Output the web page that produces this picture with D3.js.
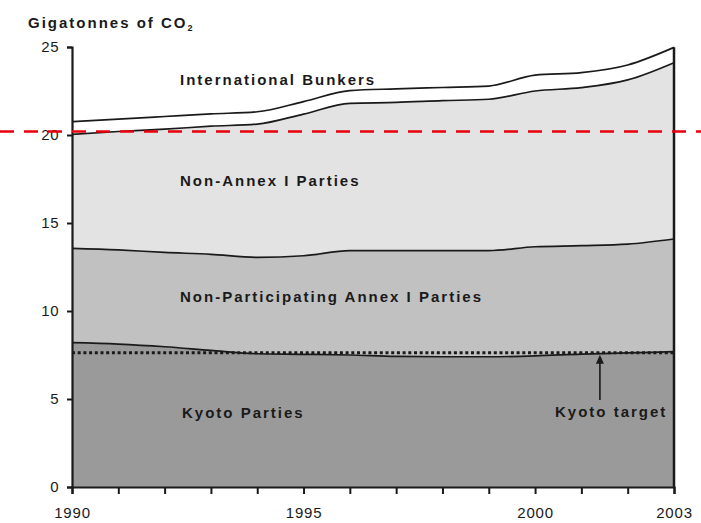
<!DOCTYPE html>
<html>
<head>
<meta charset="utf-8">
<script src="https://cdn.jsdelivr.net/npm/d3@7"></script>
<style>
  html, body { margin: 0; padding: 0; background: #fff; }
  svg { display: block; }
  text { font-family: "Liberation Sans", Arial, sans-serif; fill: #1a1a1a; }
</style>
</head>
<body>
<svg id="chart" width="701" height="523"></svg>
<script>
// ---- Data (Gigatonnes of CO2) ----
const years = [1990,1991,1992,1993,1994,1995,1996,1997,1998,1999,2000,2001,2002,2003];
const kyotoParties      = [8.20,8.12,7.97,7.76,7.57,7.54,7.50,7.42,7.40,7.40,7.45,7.55,7.62,7.69];
const nonParticipating  = [5.36,5.35,5.36,5.46,5.48,5.60,5.93,6.01,6.03,6.03,6.20,6.16,6.18,6.40];
const nonAnnexI         = [6.48,6.73,7.00,7.28,7.57,8.05,8.37,8.42,8.52,8.60,8.85,8.98,9.33,10.02];
const intlBunkers       = [0.72,0.70,0.72,0.70,0.70,0.71,0.72,0.77,0.75,0.75,0.90,0.85,0.85,0.87];
const kyotoTarget = 7.63;
const redLineValue = 20.2;
const yTicks = [0,5,10,15,20,25];
const xLabelYears = [1990,1995,2000,2003];
const seriesNames = ["kyoto","nonPart","nonAnnex","bunkers"];
const seriesLabels = ["Kyoto Parties","Non-Participating Annex I Parties","Non-Annex I Parties","International Bunkers"];
const seriesFills = ["#9a9a9a","#c1c1c1","#e3e3e3","#ffffff"];

const table = years.map((y,i)=>({year:y, kyoto:kyotoParties[i], nonPart:nonParticipating[i], nonAnnex:nonAnnexI[i], bunkers:intlBunkers[i]}));

const svg = d3.select("#chart");
const margin = {left:72, right:27, top:47, bottom:36};
const W = 701, H = 523;
const x = d3.scaleLinear().domain([1990,2003]).range([margin.left, W - margin.right]);
const y = d3.scaleLinear().domain([0,25]).range([H - margin.bottom, margin.top]);

const stack = d3.stack().keys(seriesNames);
const layers = stack(table);

const curve = d3.curveMonotoneX;
const area = d3.area().x(d=>x(d.data.year)).y0(d=>y(d[0])).y1(d=>y(d[1])).curve(curve);
const topLine = d3.line().x(d=>x(d.data.year)).y(d=>y(d[1])).curve(curve);

svg.append("g").selectAll("path").data(layers).join("path")
  .attr("d", area).attr("fill",(d,i)=>seriesFills[i]).attr("stroke","none");

svg.append("g").selectAll("path").data(layers).join("path")
  .attr("d", topLine).attr("fill","none").attr("stroke","#1a1a1a").attr("stroke-width",1.7);

// Kyoto target dotted line
svg.append("line")
  .attr("x1", x(1990)).attr("x2", x(2003))
  .attr("y1", y(kyotoTarget)).attr("y2", y(kyotoTarget))
  .attr("stroke","#1a1a1a").attr("stroke-width",3).attr("stroke-dasharray","3,2.7");

// right edge
const lastTop = layers[layers.length-1][years.length-1][1];
svg.append("line")
  .attr("x1", x(2003)).attr("x2", x(2003))
  .attr("y1", y(0)).attr("y2", y(lastTop))
  .attr("stroke","#1a1a1a").attr("stroke-width",2.5);

// Axes
const yAxis = d3.axisLeft(y).tickValues(yTicks).tickSize(5).tickPadding(8);
const gy = svg.append("g").attr("transform",`translate(${x(1990)},0)`).call(yAxis);
gy.select(".domain").attr("stroke","#1a1a1a").attr("stroke-width",2.2);
gy.selectAll(".tick line").attr("stroke","#1a1a1a").attr("stroke-width",2);
gy.selectAll(".tick text").attr("font-size",15).attr("fill","#1a1a1a")
  .attr("font-family","Liberation Sans, Arial, sans-serif").attr("letter-spacing","0.5px");

const xAxis = d3.axisBottom(x).tickValues(years).tickSize(7).tickPadding(13)
  .tickFormat(d => xLabelYears.includes(d) ? String(d) : "");
const gx = svg.append("g").attr("transform",`translate(0,${y(0)})`).call(xAxis);
gx.select(".domain").attr("stroke","#1a1a1a").attr("stroke-width",2.2);
gx.selectAll(".tick line").attr("stroke","#1a1a1a").attr("stroke-width",2);
gx.selectAll(".tick text").attr("font-size",15).attr("fill","#1a1a1a")
  .attr("font-family","Liberation Sans, Arial, sans-serif").attr("letter-spacing","0.8px");

// Red dashed line
svg.append("line")
  .attr("x1", 0).attr("x2", W)
  .attr("y1", y(redLineValue)).attr("y2", y(redLineValue))
  .attr("stroke","#e8000b").attr("stroke-width",2.4).attr("stroke-dasharray","14,10");

// Axis title
const title = svg.append("text").attr("x",28).attr("y",28)
  .attr("font-size",15).attr("font-weight","bold").attr("letter-spacing","2px");
title.append("tspan").text("Gigatonnes of CO");
title.append("tspan").attr("font-size",9).attr("dy",3).attr("letter-spacing","0px").text("2");

// Series labels
const labelPos = [
  {t:seriesLabels[0], x:182, y:418},
  {t:seriesLabels[1], x:180, y:302},
  {t:seriesLabels[2], x:180, y:186},
  {t:seriesLabels[3], x:180, y:85}
];
svg.append("g").selectAll("text").data(labelPos).join("text")
  .attr("x",d=>d.x).attr("y",d=>d.y).text(d=>d.t)
  .attr("font-size",15).attr("font-weight","bold").attr("letter-spacing","2px");

// Kyoto target annotation
const arrowX = x(2001.4);
svg.append("line").attr("x1",arrowX).attr("x2",arrowX)
  .attr("y1", 400).attr("y2", y(kyotoTarget)+8)
  .attr("stroke","#1a1a1a").attr("stroke-width",1.6);
const tipY = y(kyotoTarget)+2;
svg.append("path")
  .attr("d",`M${arrowX},${tipY} L${arrowX-4},${tipY+9} L${arrowX+4},${tipY+9} Z`)
  .attr("fill","#1a1a1a");
svg.append("text").attr("x",555).attr("y",417).text("Kyoto target")
  .attr("font-size",15).attr("font-weight","bold").attr("letter-spacing","2px");
</script>
</body>
</html>
